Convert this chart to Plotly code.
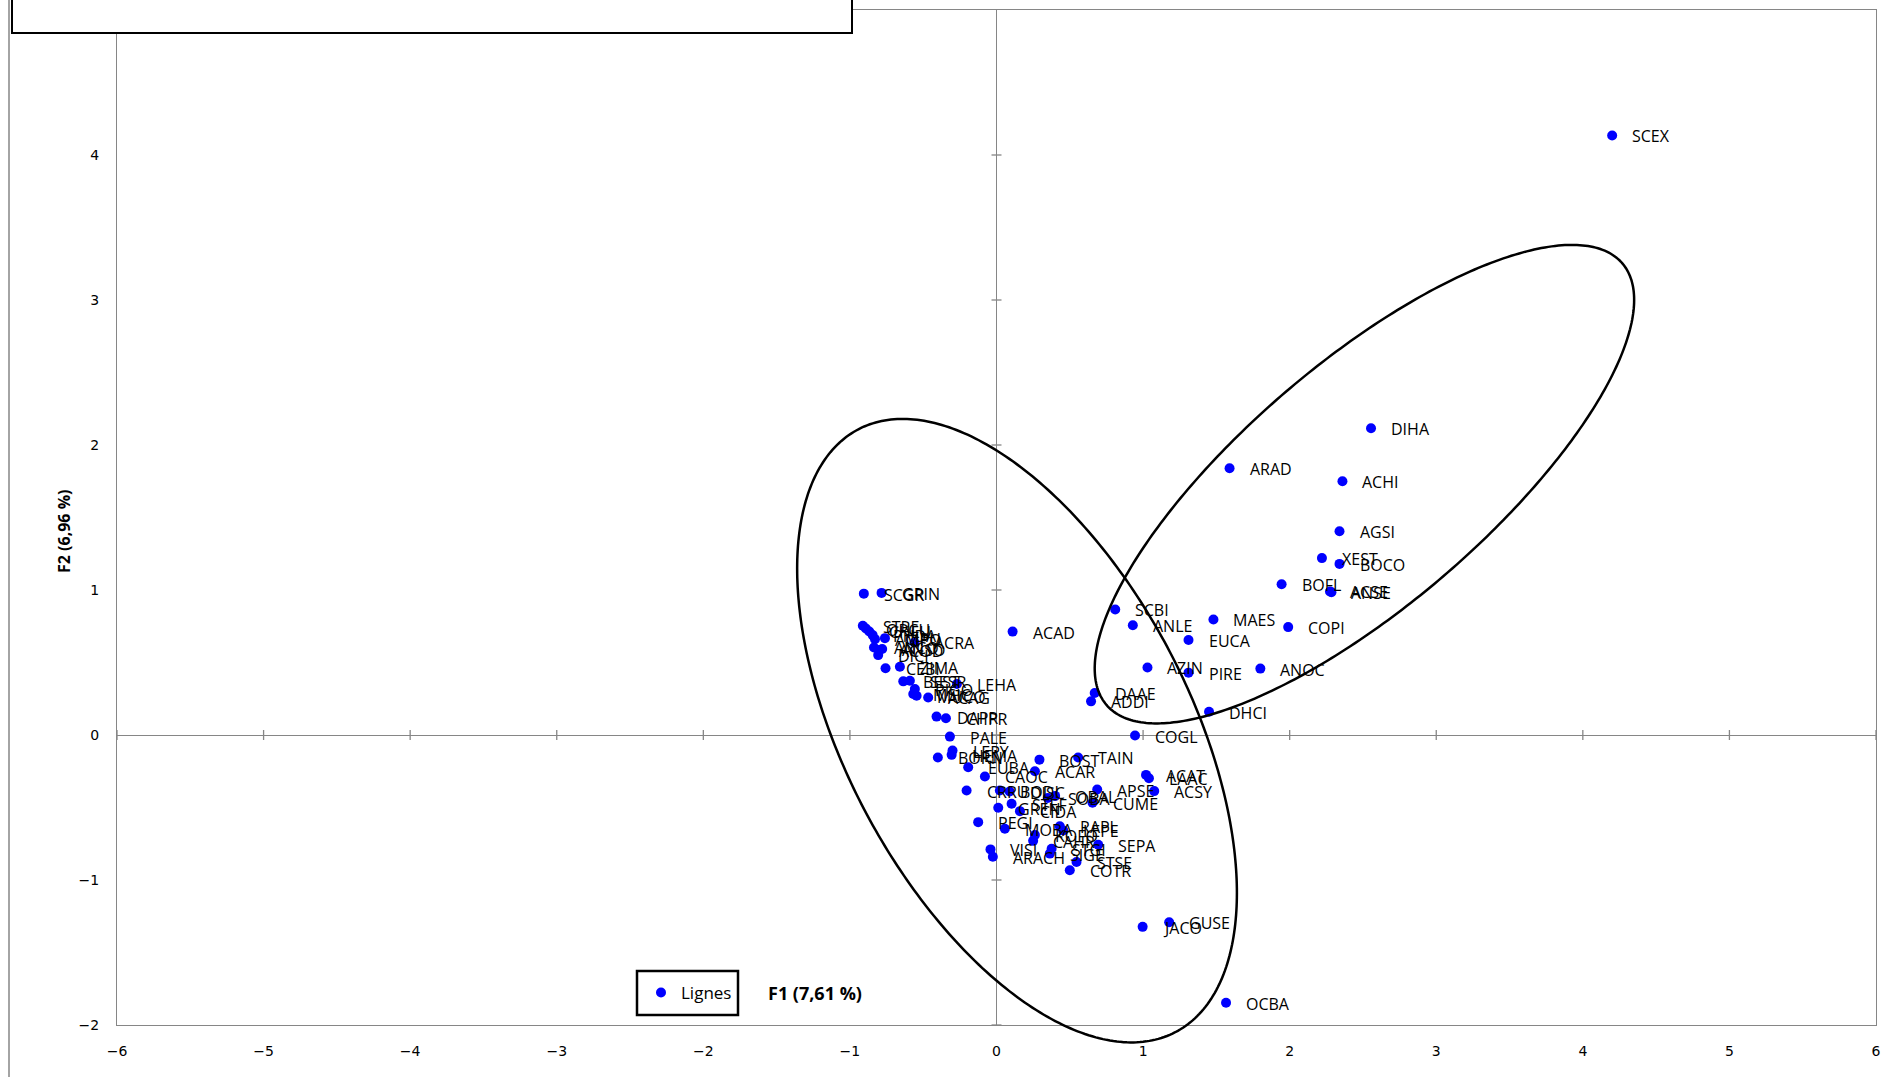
import numpy as np
import plotly.graph_objects as go

# ---------------- data ----------------
names = [
    "SCEX", "DIHA", "ARAD", "ACHI", "AGSI", "XEST", "BOCO", "BOFL", "ACSE", "ANSE",
    "SCBI", "ANLE", "MAES", "COPI", "EUCA", "AZIN", "PIRE", "ANOC", "DAAE", "ADDI",
    "DHCI", "ACAD", "COGL", "ACAT", "LAAC", "ACSY", "APSE", "CUME", "SEPA", "GUSE",
    "JACO", "OCBA", "TAIN", "BOST", "ACAR",
    "SCGR", "GRIN", "STRE", "ORCU", "CHLU", "PHDA", "AMPO", "CIPU", "ANCO", "ACOD",
    "ANSO", "DICI", "ACRA", "CEBI", "ZIMA", "BEST", "SESR", "PIGO", "MUCO", "MSIC",
    "ACAG", "LEHA", "DAPR", "CHPR", "PALE", "LEPY", "HEMA", "BORN",
    "EUBA", "CAOC", "CRRU", "BODI", "DISC", "PEGI", "VISI", "ARACH", "GREN", "STEF",
    "CIDA", "MOBA", "SOBA", "OBAL", "RAPL", "LEPE", "KOFO", "CAHR", "STGI", "SIGE",
    "STSE", "COTR",
]
f1 = [
    4.20, 2.555, 1.59, 2.36, 2.34, 2.22, 2.34, 1.945, 2.275, 2.285,
    0.81, 0.93, 1.48, 1.99, 1.31, 1.03, 1.31, 1.80, 0.67, 0.645,
    1.45, 0.11, 0.945, 1.02, 1.04, 1.076, 0.687, 0.655, 0.694, 1.178,
    0.997, 1.566, 0.557, 0.293, 0.262,
    -0.905, -0.784, -0.912, -0.891, -0.868, -0.845, -0.829, -0.761, -0.836, -0.80,
    -0.78, -0.807, -0.56, -0.757, -0.659, -0.636, -0.591, -0.557, -0.545, -0.568,
    -0.466, -0.27, -0.409, -0.345, -0.318, -0.30, -0.306, -0.40,
    -0.193, -0.079, -0.204, 0.023, 0.09, -0.125, -0.041, -0.025, 0.012, 0.103,
    0.16, 0.057, 0.35, 0.40, 0.432, 0.455, 0.262, 0.25, 0.376, 0.364,
    0.546, 0.50,
]
f2 = [
    4.135, 2.115, 1.84, 1.75, 1.405, 1.22, 1.18, 1.04, 0.99, 0.985,
    0.866, 0.757, 0.797, 0.744, 0.655, 0.466, 0.43, 0.458, 0.29, 0.232,
    0.16, 0.713, -0.004, -0.275, -0.298, -0.387, -0.376, -0.467, -0.757, -1.291,
    -1.323, -1.846, -0.155, -0.17, -0.25,
    0.975, 0.98, 0.753, 0.734, 0.714, 0.689, 0.661, 0.668, 0.604, 0.586,
    0.593, 0.551, 0.638, 0.46, 0.471, 0.370, 0.374, 0.317, 0.271, 0.283,
    0.259, 0.352, 0.127, 0.115, -0.011, -0.107, -0.137, -0.155,
    -0.222, -0.286, -0.383, -0.383, -0.39, -0.601, -0.789, -0.84, -0.502, -0.474,
    -0.525, -0.646, -0.435, -0.42, -0.63, -0.658, -0.69, -0.73, -0.784, -0.818,
    -0.876, -0.933,
]
x_ticks = [-6, -5, -4, -3, -2, -1, 0, 1, 2, 3, 4, 5, 6]
y_ticks = [-2, -1, 0, 1, 2, 3, 4]
x_range = [-6, 6]
y_range = [-2, 5]

# ellipses: centre, half-extent in x / y, phase cosine
ellipses = [
    dict(cx=0.14, cy=0.03, rx=1.50, ry=2.15, cphi=-0.52),
    dict(cx=2.51, cy=1.73, rx=1.84, ry=1.65, cphi=0.77),
]

# ---------------- geometry ----------------
W, H = 1894, 1077
ML, MR, MT, MB = 117, 18, 10, 52
PW, PH = W - ML - MR, H - MT - MB

def px_to_paper_x(px):
    return (px - ML) / PW

def px_to_paper_y(py):
    return 1 - (py - MT) / PH

def data_to_paper(x, y):
    return ((np.asarray(x) - x_range[0]) / (x_range[1] - x_range[0]),
            (np.asarray(y) - y_range[0]) / (y_range[1] - y_range[0]))

GREY = "#868686"
fig = go.Figure()

fig.add_trace(go.Scatter(
    x=f1, y=f2, mode="markers", name="Lignes",
    marker=dict(color="#0000FF", size=10, line=dict(width=0)),
    cliponaxis=False, hoverinfo="text", text=names, showlegend=True,
))

annotations = []
for n, x, y in zip(names, f1, f2):
    annotations.append(dict(
        x=x, y=y, xref="x", yref="y", text=n, showarrow=False,
        xanchor="left", yanchor="middle", xshift=18, yshift=-1,
        font=dict(family="Open Sans", size=16, color="#000000"),
    ))

shapes = []
# crossing tick marks on the zero lines
dx = 5 / PW * (x_range[1] - x_range[0])
dy = 5 / PH * (y_range[1] - y_range[0])
for t in x_ticks:
    shapes.append(dict(type="line", xref="x", yref="y", x0=t, x1=t, y0=-dy, y1=dy,
                       line=dict(color=GREY, width=1.3), layer="below"))
for t in y_ticks:
    shapes.append(dict(type="line", xref="x", yref="y", x0=-dx, x1=dx, y0=t, y1=t,
                       line=dict(color=GREY, width=1.3), layer="below"))

# ellipses (paper coordinates so they are not clipped at the axis)
tt = np.linspace(0, 2 * np.pi, 361)
for e in ellipses:
    phi = np.arccos(e["cphi"])
    ex = e["cx"] + e["rx"] * np.cos(tt)
    ey = e["cy"] + e["ry"] * np.cos(tt + phi)
    px, py = data_to_paper(ex, ey)
    path = "M " + " L ".join(f"{a:.5f},{b:.5f}" for a, b in zip(px, py)) + " Z"
    shapes.append(dict(type="path", xref="paper", yref="paper", path=path,
                       line=dict(color="#000000", width=2.5), layer="above"))

# outer chart-area border (left)
shapes.append(dict(type="line", xref="paper", yref="paper",
                   x0=px_to_paper_x(9), x1=px_to_paper_x(9), y0=-0.2, y1=1.2,
                   line=dict(color=GREY, width=1.5)))
# title box (mostly above the page)
shapes.append(dict(type="rect", xref="paper", yref="paper",
                   x0=px_to_paper_x(12), x1=px_to_paper_x(852),
                   y0=px_to_paper_y(33), y1=px_to_paper_y(-40),
                   fillcolor="white", line=dict(color="#000000", width=2), layer="above"))
# legend frame
shapes.append(dict(type="rect", xref="paper", yref="paper",
                   x0=px_to_paper_x(637), x1=px_to_paper_x(738),
                   y0=px_to_paper_y(1015), y1=px_to_paper_y(971),
                   fillcolor="white", line=dict(color="#000000", width=2.5), layer="below"))

annotations.append(dict(
    xref="paper", yref="paper", x=px_to_paper_x(40), y=px_to_paper_y(2),
    xanchor="left", yanchor="bottom", showarrow=False,
    text="<b>Graphique symétrique des lignes (axes F1 et F2 : 14,57 %)</b>",
    font=dict(family="Liberation Serif", size=20, color="#000000"),
))
annotations.append(dict(
    xref="paper", yref="paper", x=px_to_paper_x(64), y=px_to_paper_y(531),
    xanchor="center", yanchor="middle", showarrow=False, textangle=-90,
    text="<b>F2 (6,96 %)</b>",
    font=dict(family="Open Sans", size=16, color="#000000"),
))
annotations.append(dict(
    xref="paper", yref="paper", x=px_to_paper_x(815), y=px_to_paper_y(993),
    xanchor="center", yanchor="middle", showarrow=False,
    text="<b>F1 (7,61 %)</b>",
    font=dict(family="Open Sans", size=18, color="#000000"),
))

axis_common = dict(
    showgrid=False, zeroline=True, zerolinecolor=GREY, zerolinewidth=1.3,
    showline=True, mirror=True, linecolor=GREY, linewidth=1.3,
    ticks="", tickfont=dict(family="DejaVu Sans", size=14, color="#000000"),
)
fig.update_xaxes(range=x_range, tickvals=x_ticks, ticklabelstandoff=13, **axis_common)
fig.update_yaxes(range=y_range, tickvals=y_ticks, ticklabelstandoff=14, **axis_common)

fig.update_layout(
    width=W, height=H, autosize=False,
    margin=dict(l=ML, r=MR, t=MT, b=MB, pad=0),
    paper_bgcolor="white", plot_bgcolor="white",
    shapes=shapes, annotations=annotations,
    showlegend=True,
    legend=dict(x=px_to_paper_x(641), y=px_to_paper_y(993), xanchor="left", yanchor="middle",
                borderwidth=0, bgcolor="rgba(0,0,0,0)",
                font=dict(family="Open Sans", size=17, color="#000000"),
                itemwidth=30),
)

fig.write_html("out.html", config={"displayModeBar": False},
               post_script="document.body.style.margin='0px';")
